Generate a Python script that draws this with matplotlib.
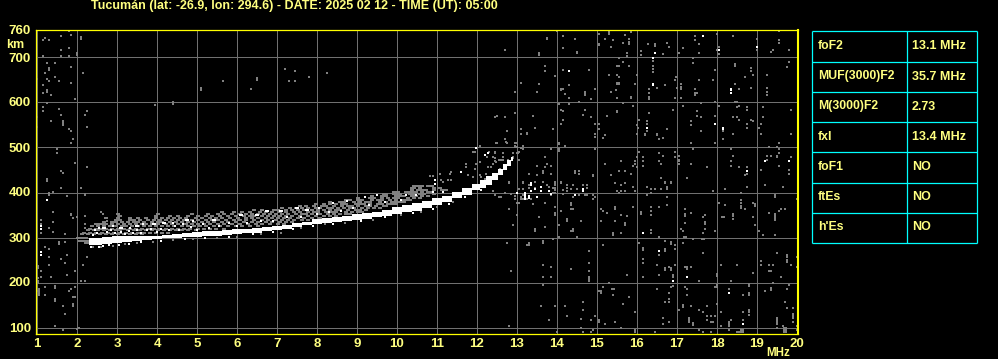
import matplotlib
matplotlib.use('Agg')
import matplotlib.pyplot as plt

# Header and table text
title = 'Tucumán (lat: -26.9, lon: 294.6) - DATE: 2025 02 12 - TIME (UT): 05:00'
table_names = ['foF2', 'MUF(3000)F2', 'M(3000)F2', 'fxI', 'foF1', 'ftEs', "h'Es"]
table_values = ['13.1 MHz', '35.7 MHz', '2.73', '13.4 MHz', 'NO', 'NO', 'NO']

x_ticks = list(range(1, 21))
y_ticks = [100, 200, 300, 400, 500, 600, 700]

# Main F trace, white band
trace_f = [2.3, 2.5, 2.75, 3, 3.25, 3.5, 3.75, 4, 4.25, 4.5, 4.75, 5, 5.25, 5.5, 5.75, 6, 6.25, 6.5, 6.75, 7,
           7.25, 7.5, 7.75, 8, 8.25, 8.5, 8.75, 9, 9.25, 9.5, 9.75, 10, 10.25, 10.5, 10.75, 11, 11.25, 11.5,
           11.75, 12, 12.15, 12.3, 12.45, 12.6, 12.7, 12.8, 12.9]
trace_low = [284, 284, 286, 288, 290, 292, 294, 296, 298, 300, 301, 302, 303, 304, 305, 307, 309, 311, 314, 316,
             319, 324, 327, 330, 333, 335, 337, 339, 342, 345, 348, 352, 356, 360, 366, 372, 378, 387,
             395, 405, 410, 416, 428, 438, 450, 460, 470]
trace_high = [298, 299, 301, 303, 303, 303, 303, 304, 306, 307, 309, 312, 314, 315, 316, 319, 320, 321, 323, 326,
              328, 333, 335, 342, 344, 346, 348, 352, 354, 357, 361, 367, 372, 376, 381, 387, 393, 401,
              410, 420, 428, 436, 444, 452, 464, 472, 478]

# Grey echoes above the trace, one row per height
cloud_rows = [
    (415, [10.4, 10.5, 10.6, 10.75, 10.85]),
    (410, [10.35, 10.4, 10.55, 10.9, 11.05]),
    (405, [10.35, 10.5, 10.6, 10.7, 10.9, 11.1, 11.2]),
    (401, [9.9, 10.0, 10.2, 10.3, 10.35, 10.45, 10.6, 10.75, 10.85]),
    (397, [9.65, 9.7, 9.9, 9.95, 10.05, 10.3, 10.4, 10.55, 10.65, 10.9]),
    (392, [9.35, 9.6, 9.7, 9.95, 10.05, 10.15, 10.35, 10.45, 10.6, 10.75]),
    (388, [9.0, 9.3, 9.4, 9.6, 9.75, 9.9, 10.0, 10.25, 10.4, 10.55]),
    (383, [8.7, 8.8, 9.0, 9.1, 9.35, 9.5, 9.6, 9.8, 9.95, 10.1, 10.2, 10.3]),
    (379, [8.3, 8.55, 8.65, 8.9, 9.05, 9.2, 9.3, 9.55, 9.7, 9.85, 9.95, 10.05, 10.15]),
    (374, [7.95, 8.15, 8.3, 8.45, 8.6, 8.7, 8.95, 9.05, 9.15, 9.3, 9.5, 9.6, 9.75, 9.85, 9.95]),
    (370, [7.55, 7.7, 7.9, 8.1, 8.2, 8.4, 8.6, 8.75, 8.85, 9.0, 9.2, 9.3, 9.45, 9.65, 9.7]),
    (365, [7.1, 7.3, 7.45, 7.6, 7.75, 7.95, 8.05, 8.25, 8.35, 8.5, 8.65, 8.8, 8.9, 9.1, 9.25, 9.4, 9.55]),
    (361, [6.4, 6.6, 6.9, 7.0, 7.2, 7.35, 7.5, 7.65, 7.85, 8.0, 8.15, 8.3, 8.45, 8.55, 8.75, 8.95, 9.05, 9.2]),
    (356, [5.6, 5.9, 6.1, 6.3, 6.55, 6.7, 6.85, 7.05, 7.2, 7.4, 7.55, 7.75, 7.9, 8.0, 8.2, 8.35, 8.45, 8.7, 8.85,
           9.0, 9.1]),
    (352, [3.0, 4.0, 4.85, 5.25, 5.5, 5.65, 5.85, 6.05, 6.2, 6.35, 6.5, 6.65, 6.8, 6.95, 7.1, 7.25, 7.45, 7.6, 7.7,
           7.85, 8.05, 8.25, 8.4, 8.55, 8.7, 8.8]),
    (347, [3.05, 3.95, 4.3, 4.5, 4.75, 5.0, 5.2, 5.35, 5.55, 5.75, 5.95, 6.15, 6.3, 6.4, 6.6, 6.75, 6.9, 7.05, 7.2,
           7.35, 7.55, 7.75, 7.95, 8.15, 8.3, 8.45]),
    (343, [2.7, 3.0, 3.3, 3.5, 3.7, 3.95, 4.1, 4.25, 4.4, 4.55, 4.7, 4.95, 5.1, 5.3, 5.45, 5.6, 5.8, 6.0, 6.2, 6.35,
           6.5, 6.7, 6.85, 7.0, 7.15, 7.3, 7.5, 7.65, 7.85, 8.05]),
    (338, [2.95, 3.05, 3.3, 3.4, 3.55, 3.75, 3.9, 4.05, 4.2, 4.35, 4.5, 4.65, 4.85, 5.0, 5.2, 5.35, 5.5, 5.7, 5.9,
           6.05, 6.2, 6.4, 6.6, 6.75, 6.95, 7.1, 7.25, 7.4, 7.6, 7.75]),
    (334, [2.65, 2.85, 2.95, 3.1, 3.25, 3.4, 3.5, 3.65, 3.85, 4.0, 4.1, 4.3, 4.45, 4.6, 4.75, 4.9, 5.1, 5.25, 5.4,
           5.6, 5.75, 5.95, 6.15, 6.35, 6.5, 6.7, 6.85, 7.05, 7.2, 7.35]),
    (329, [2.45, 2.6, 2.7, 2.85, 3.0, 3.15, 3.3, 3.45, 3.6, 3.7, 3.85, 4.0, 4.2, 4.35, 4.5, 4.7, 4.85, 5.0, 5.15, 5.3,
           5.5, 5.65, 5.85, 6.05, 6.25, 6.45, 6.6, 6.8, 7.0, 7.15]),
    (325, [2.35, 2.5, 2.65, 2.8, 2.95, 3.1, 3.2, 3.35, 3.5, 3.65, 3.8, 3.95, 4.1, 4.25, 4.4, 4.6, 4.75, 4.9, 5.05, 5.2,
           5.4, 5.55, 5.75, 5.95, 6.1, 6.3, 6.5]),
    (320, [2.3, 2.45, 2.55, 2.7, 2.85, 3.0, 3.15, 3.3, 3.45, 3.6, 3.75, 3.9, 4.05, 4.2, 4.35, 4.5, 4.65, 4.8, 5.0, 5.15,
           5.3, 5.45, 5.65]),
    (316, [2.25, 2.4, 2.5, 2.65, 2.8, 2.95, 3.05, 3.25, 3.4, 3.55, 3.7, 3.85, 4.0, 4.15, 4.3, 4.45, 4.6, 4.75, 4.95]),
    (311, [2.15, 2.3, 2.45, 2.6, 2.75, 2.9, 3.05, 3.2, 3.35, 3.5, 3.65, 3.8, 3.95, 4.1, 4.25]),
    (307, [2.1, 2.25, 2.4, 2.55, 2.7, 2.85, 3.0, 3.15, 3.3, 3.45, 3.6]),
    (300, [2.0, 2.1, 2.15, 2.2]),
    (293, [2.05, 2.15, 2.25]),
    (288, [2.2, 2.3]),
]

# Grey speckle, (MHz, km), read region by region
speck_left = [
    (1.2, 761), (1.54, 761), (1.79, 759), (1.84, 750), (1.59, 747), (1.14, 738), (1.19, 743), (1.29, 738), (2.09, 741),
    (2.09, 746), (1.59, 716), (1.79, 721), (1.14, 703), (1.59, 703), (1.79, 703), (1.99, 711), (1.99, 706), (1.24, 687),
    (1.44, 687), (1.84, 679), (1.29, 672), (1.29, 676), (1.19, 665), (2.14, 665), (1.44, 656), (1.24, 652), (1.29, 647),
    (1.54, 647), (1.84, 643), (1.0, 652), (1.14, 639), (1.24, 623), (1.24, 627), (1.14, 621), (1.34, 616), (1.94, 607),
    (1.24, 599), (1.14, 590), (1.14, 581), (1.54, 585), (1.59, 572), (2.24, 581), (2.19, 572), (1.0, 567), (1.34, 559),
    (1.64, 559), (1.64, 554), (1.64, 550), (2.24, 545), (1.0, 545), (1.79, 541), (1.84, 536), (1.89, 519), (1.84, 510),
    (1.49, 496), (1.49, 487), (1.94, 465), (2.24, 456), (1.59, 447), (1.64, 443), (1.24, 430), (1.24, 425), (1.59, 410),
    (2.09, 410), (1.29, 399), (1.29, 394), (1.39, 401), (1.74, 392), (2.19, 396), (1.39, 356), (1.84, 352), (1.89, 343),
    (2.19, 347), (1.39, 334), (1.29, 321), (1.39, 312), (1.69, 307), (1.09, 338), (1.09, 330), (1.09, 311), (2.19, 329),
    (2.19, 321), (2.59, 356), (2.64, 352), (2.74, 336), (2.64, 329), (2.54, 329), (1.19, 279), (1.29, 274), (1.54, 285),
    (1.54, 290), (1.69, 290), (1.74, 261), (2.24, 256), (1.59, 252), (1.29, 256), (1.69, 243), (2.14, 239), (1.29, 239),
    (1.02, 237), (1.02, 232), (1.09, 225), (1.94, 225), (1.74, 216), (1.34, 212), (1.09, 212), (1.02, 209), (1.02, 204),
    (1.02, 200), (2.09, 203), (2.19, 203), (1.19, 190), (1.44, 192), (1.44, 187), (1.94, 190), (1.84, 185), (1.79, 181),
    (1.04, 185), (1.04, 181), (1.04, 176), (1.04, 172), (1.0, 181), (1.19, 172), (1.89, 167), (1.94, 167), (1.44, 163),
    (1.44, 160), (1.89, 152), (1.89, 147), (1.64, 147), (1.69, 130), (1.44, 103), (1.64, 94), (2.04, 99), (1.99, 96),
    (2.2, 394), (1.85, 350), (2.0, 345),
]
speck_mid = [
    (3.94, 594), (4.39, 601), (4.39, 597), (5.09, 632), (5.09, 627), (5.64, 647), (6.49, 654), (6.49, 650), (6.34, 630),
    (7.19, 674), (7.44, 670), (7.29, 647), (7.44, 647), (7.79, 656), (8.24, 665),
    (10.82, 437), (10.9, 437), (11.07, 442), (11.11, 427), (11.32, 442), (11.36, 427), (11.28, 427), (11.15, 424),
    (11.36, 446), (11.73, 464), (11.73, 457), (11.94, 490), (11.9, 490), (12.07, 503), (12.27, 487), (12.44, 487),
    (12.48, 509), (12.73, 513), (12.98, 509), (12.94, 501), (13.11, 498), (13.03, 487), (12.9, 487), (12.65, 479),
    (12.44, 476), (12.48, 468), (12.07, 468), (11.98, 464), (11.94, 453), (12.27, 457), (12.4, 464), (12.61, 472),
    (12.78, 472), (12.9, 476), (11.78, 439), (12.07, 439), (12.23, 442), (12.36, 435), (12.11, 435), (12.19, 431),
    (12.57, 453), (11.9, 435),
    # below the band
    (2.4, 279), (2.6, 279), (2.9, 282), (3.2, 285), (3.5, 288), (3.9, 291), (4.4, 294), (4.9, 297), (5.5, 300),
    (6.0, 302), (6.6, 307), (7.1, 311), (7.6, 321), (8.2, 329), (8.7, 332), (9.4, 340), (10.1, 350), (10.6, 356),
    (11.0, 367), (11.4, 378),
]
speck_upper_right = [
    (13.74, 744), (13.74, 740), (12.69, 716), (13.54, 709), (13.54, 705), (13.99, 758), (14.14, 747), (14.44, 742),
    (14.14, 720), (14.49, 713), (14.49, 709), (15.04, 752), (15.29, 752), (15.29, 756), (15.19, 742), (15.39, 738),
    (15.04, 727), (15.04, 731), (15.34, 724), (15.69, 751), (15.84, 756), (15.79, 740), (15.79, 735), (15.79, 731),
    (15.64, 733), (15.74, 704), (15.74, 709), (15.54, 698), (15.64, 689), (15.79, 682), (15.49, 680), (15.54, 680),
    (13.69, 682), (13.69, 669), (13.94, 658), (14.14, 673), (14.79, 673), (15.29, 660), (15.49, 662), (15.54, 656),
    (15.99, 662), (13.09, 644), (13.54, 642), (12.94, 624), (13.49, 624), (14.29, 638), (14.09, 631), (14.14, 631),
    (14.1, 627), (14.19, 618), (14.69, 624), (14.69, 620), (14.69, 616), (14.94, 629), (15.34, 624), (15.47, 627),
    (15.49, 640), (15.54, 640), (15.49, 644), (15.54, 644), (15.49, 611), (15.84, 613), (15.84, 609), (15.94, 642),
    (14.29, 609), (14.84, 607), (14.54, 602), (14.29, 596), (14.04, 596), (14.09, 584), (15.64, 598), (15.89, 593),
    (15.49, 582), (15.49, 578), (14.69, 584), (14.64, 573), (14.14, 580), (14.14, 562), (14.09, 553), (14.84, 567),
    (15.24, 571), (14.94, 553), (15.04, 553), (15.04, 542), (12.44, 568), (12.49, 571), (12.69, 567), (12.94, 576),
    (13.39, 571), (13.44, 544), (13.89, 540), (13.09, 540), (13.09, 531), (13.24, 529), (13.24, 533), (12.74, 536),
    (14.94, 524), (14.94, 529), (15.19, 527), (15.14, 522), (15.99, 549), (16.04, 562), (16.02, 544), (15.99, 531),
    (14.04, 511), (14.04, 507), (14.19, 504), (13.84, 496), (14.04, 496), (14.04, 492), (14.94, 496), (16.04, 491),
    (13.69, 478), (13.84, 460), (13.74, 464), (13.49, 460), (13.69, 456), (13.29, 442), (13.49, 438), (13.64, 447),
    (13.64, 443), (13.84, 442), (14.44, 447), (14.44, 443), (14.54, 442), (14.54, 447), (14.89, 436), (14.89, 440),
    (15.19, 464), (15.59, 469), (15.54, 447), (15.69, 447), (15.89, 460), (15.94, 469), (15.94, 464), (15.84, 442),
    (15.34, 438), (15.99, 478), (15.99, 456), (14.09, 424), (12.79, 424), (13.14, 424), (13.64, 424), (13.94, 424),
    (12.07, 503), (12.49, 511), (12.69, 518), (12.74, 511), (12.94, 511), (12.94, 504), (12.99, 500), (13.14, 504),
    (13.14, 496), (13.04, 491), (12.99, 487), (12.89, 478), (13.04, 473), (12.29, 489), (12.44, 489), (12.64, 487),
    (12.24, 478), (12.39, 478), (12.44, 469), (12.54, 473), (12.64, 473), (12.34, 456), (12.39, 464), (12.69, 456),
]
speck_far_right = [
    (16.09, 715), (16.09, 705), (16.27, 730), (16.44, 726), (16.44, 730), (16.75, 733), (16.79, 724), (16.64, 707),
    (17.04, 709), (17.14, 720), (17.44, 747), (17.44, 738), (17.54, 729), (17.54, 711), (18.0, 752), (18.04, 724),
    (17.99, 716), (18.04, 707), (18.39, 747), (18.99, 742), (18.99, 716), (19.54, 758), (19.54, 738), (19.54, 733),
    (19.34, 713), (19.39, 716), (19.79, 716), (17.39, 698), (17.39, 687), (16.39, 693), (16.39, 682), (16.39, 675),
    (16.39, 667), (19.79, 691), (19.74, 678), (18.44, 685), (18.44, 680), (18.84, 676), (18.84, 671), (17.94, 673),
    (18.89, 660), (18.69, 656), (19.24, 660), (17.54, 651), (17.89, 651), (16.97, 656), (16.94, 651), (17.09, 641),
    (17.09, 634), (17.09, 629), (16.69, 638), (16.49, 633), (16.29, 629), (16.29, 620), (16.29, 612), (16.29, 607),
    (17.0, 633), (16.94, 611), (17.09, 611), (17.44, 629), (17.44, 622), (17.49, 622), (17.44, 616), (18.54, 629),
    (18.44, 642), (18.84, 633), (19.24, 633), (19.24, 624), (19.24, 616), (17.94, 602), (18.44, 602), (18.5, 602),
    (18.04, 593), (18.54, 593), (18.49, 589), (18.74, 589), (18.74, 584), (19.14, 589), (19.84, 584), (17.14, 593),
    (17.59, 598), (16.89, 584), (16.29, 576), (17.49, 580), (17.49, 571), (17.59, 567), (17.94, 571), (17.34, 558),
    (17.34, 549), (18.39, 567), (18.49, 567), (18.54, 562), (18.84, 562), (18.89, 558), (18.74, 553), (18.74, 544),
    (19.14, 567), (19.09, 553), (19.04, 544), (18.14, 536), (18.14, 518), (18.39, 531), (19.09, 531), (16.24, 558),
    (16.24, 553), (16.24, 536), (16.19, 531), (16.19, 527), (16.49, 531), (16.49, 527), (16.74, 540), (16.64, 522),
    (16.54, 518), (17.59, 536), (17.34, 509), (17.94, 509), (19.84, 531), (19.54, 511), (18.34, 496), (18.39, 482),
    (18.34, 469), (18.34, 460), (18.54, 456), (18.74, 456), (18.74, 442), (18.69, 438), (17.39, 496), (16.94, 491),
    (16.54, 487), (16.64, 482), (16.94, 478), (17.04, 482), (17.04, 473), (17.04, 469), (17.04, 464), (16.54, 469),
    (16.59, 464), (16.14, 478), (16.14, 469), (16.14, 460), (17.34, 464), (17.74, 456), (17.24, 433), (16.59, 433),
    (16.69, 424), (16.84, 424), (19.29, 500), (19.49, 500), (19.54, 496), (19.54, 487), (19.49, 482), (19.49, 478),
    (19.24, 482), (19.34, 482), (19.24, 473), (19.54, 460), (19.09, 451), (19.84, 478), (19.79, 451), (19.79, 442),
]
speck_lower_mid = [
    (12.79, 421), (13.14, 421), (13.44, 423), (13.94, 421), (14.09, 421), (15.44, 421), (15.69, 421), (15.59, 416),
    (15.89, 412), (14.39, 416), (14.74, 416), (13.29, 416), (13.29, 410), (13.04, 407), (13.14, 407), (13.44, 410),
    (13.74, 416), (13.79, 412), (13.94, 416), (13.94, 410), (13.94, 405), (13.94, 400), (13.89, 410), (14.14, 405),
    (14.24, 416), (14.24, 410), (14.24, 403), (14.34, 407), (14.49, 407), (14.64, 416), (14.74, 410), (12.39, 403),
    (12.44, 394), (12.54, 390), (12.59, 390), (12.69, 398), (12.84, 396), (12.94, 392), (12.94, 385), (13.09, 390),
    (13.09, 385), (13.14, 394), (13.14, 385), (13.24, 385), (13.34, 385), (13.39, 374), (12.99, 376), (13.04, 376),
    (13.69, 376), (13.84, 394), (13.89, 398), (14.14, 396), (14.39, 390), (14.54, 394), (14.69, 394), (14.74, 394),
    (14.89, 394), (14.94, 390), (14.89, 385), (15.49, 403), (15.59, 403), (15.54, 398), (15.69, 403), (15.94, 403),
    (14.34, 376), (14.34, 372), (14.34, 363), (14.39, 363), (13.94, 367), (13.94, 354), (13.94, 350), (14.09, 358),
    (12.79, 363), (12.99, 350), (13.54, 345), (12.89, 327), (14.24, 341), (14.24, 336), (14.59, 336), (14.04, 327),
    (13.69, 323), (13.44, 319), (13.44, 314), (14.39, 319), (14.39, 314), (14.34, 314), (14.49, 301), (14.04, 301),
    (15.09, 363), (15.14, 358), (15.24, 354), (15.44, 367), (15.44, 363), (15.59, 350), (15.74, 347), (15.89, 367),
    (15.09, 336), (15.44, 336), (15.69, 332), (15.69, 327), (15.59, 310), (15.39, 310), (15.39, 305), (12.74, 287),
    (13.24, 283), (13.29, 287), (13.29, 283), (13.64, 292), (13.64, 287), (13.89, 296), (15.14, 283), (16.04, 287),
    (14.79, 270), (14.79, 243), (14.79, 225), (14.79, 212), (14.79, 207), (14.79, 203), (13.64, 239), (13.84, 234),
    (14.34, 230), (12.84, 225), (13.64, 212), (13.84, 212), (15.74, 216), (13.64, 194), (15.04, 181), (15.09, 181),
    (15.09, 176), (15.14, 190), (15.29, 199), (15.37, 185), (15.42, 185), (15.39, 172), (15.79, 167), (15.64, 152),
    (15.94, 134), (13.59, 147), (13.94, 147), (14.19, 147), (14.64, 156), (14.64, 138), (14.24, 125), (14.59, 120),
    (14.94, 125), (14.84, 116), (13.79, 116), (15.04, 116), (15.04, 112), (15.19, 107), (15.44, 112), (12.79, 103),
    (14.59, 98), (14.89, 94), (15.59, 98), (15.94, 95), (15.94, 91), (13.99, 90), (14.64, 90), (14.84, 90),
]
speck_lower_right = [
    (16.24, 412), (16.34, 407), (16.44, 407), (16.59, 407), (16.69, 421), (16.84, 421), (16.74, 412), (16.74, 408),
    (16.24, 394), (16.34, 398), (16.74, 390), (16.74, 372), (16.34, 367), (16.54, 367), (16.34, 358), (16.34, 350),
    (16.09, 356), (16.09, 352), (17.19, 363), (17.19, 352), (17.19, 348), (17.34, 354), (17.19, 332), (17.09, 319),
    (17.14, 314), (17.64, 345), (17.69, 350), (17.69, 334), (17.69, 330), (17.69, 319), (17.64, 310), (17.94, 314),
    (17.89, 403), (18.19, 407), (18.74, 412), (19.19, 416), (19.64, 412), (18.59, 398), (19.44, 394), (19.44, 390),
    (19.99, 385), (18.04, 376), (18.19, 372), (18.59, 383), (18.59, 376), (18.59, 370), (18.59, 365), (18.69, 363),
    (18.89, 376), (18.94, 374), (18.94, 370), (18.39, 352), (18.39, 347), (18.39, 341), (18.12, 345), (18.17, 345),
    (18.89, 345), (18.94, 327), (19.29, 354), (19.44, 352), (19.44, 348), (19.44, 343), (19.44, 339), (19.54, 358),
    (19.59, 363), (19.69, 363), (19.04, 314), (19.14, 305), (19.44, 305), (16.34, 316), (16.34, 311), (16.54, 301),
    (16.69, 292), (16.84, 290), (16.84, 286), (16.94, 283), (16.94, 274), (16.69, 274), (16.69, 270), (16.54, 261),
    (16.14, 276), (16.14, 272), (16.14, 252), (16.14, 243), (16.49, 239), (16.69, 232), (16.69, 228), (16.79, 234),
    (16.84, 232), (16.84, 228), (16.94, 239), (16.54, 216), (16.89, 216), (16.89, 212), (16.14, 212), (17.17, 301),
    (17.22, 301), (17.14, 287), (17.39, 296), (17.62, 296), (17.67, 296), (17.64, 265), (17.24, 234), (17.19, 234),
    (17.34, 234), (17.24, 230), (17.54, 203), (18.09, 239), (18.49, 239), (17.99, 218), (17.99, 214), (18.89, 221),
    (19.09, 247), (19.09, 239), (19.29, 239), (19.39, 239), (19.29, 225), (19.34, 225), (19.49, 265), (19.59, 212),
    (19.74, 261), (19.74, 256), (19.74, 250), (19.74, 245), (19.84, 239), (19.99, 256), (19.99, 234), (19.39, 199),
    (18.34, 203), (17.99, 194), (17.99, 190), (17.94, 190), (18.29, 185), (18.79, 196), (18.79, 192), (18.79, 176),
    (18.79, 172), (18.64, 172), (19.34, 187), (19.34, 183), (19.19, 181), (19.74, 185), (19.79, 194), (16.49, 185),
    (16.89, 192), (16.84, 190), (16.79, 176), (16.79, 163), (16.79, 156), (16.69, 156), (17.19, 190), (17.24, 185),
    (17.24, 172), (17.14, 150), (17.14, 146), (17.34, 147), (17.04, 138), (17.54, 138), (17.64, 134), (17.74, 147),
    (17.99, 152), (17.74, 125), (17.84, 125), (17.94, 125), (17.74, 116), (17.84, 112), (17.89, 112), (17.29, 121),
    (17.29, 116), (17.29, 112), (17.39, 110), (17.39, 106), (16.64, 121), (16.64, 107), (16.79, 112), (16.44, 90),
    (18.09, 134), (18.34, 116), (18.29, 112), (18.29, 107), (18.29, 103), (18.09, 103), (18.29, 94), (18.79, 138),
    (18.79, 134), (18.79, 127), (18.64, 116), (18.64, 134), (19.69, 156), (19.74, 143), (19.89, 143), (19.89, 130),
    (19.89, 125), (19.89, 121), (19.89, 112), (19.99, 103), (19.49, 121), (19.49, 116), (19.49, 112), (19.49, 107),
    (19.49, 98), (19.64, 103), (19.67, 98), (19.67, 94), (19.67, 90), (19.72, 98), (19.72, 94), (19.72, 90),
    (18.49, 90), (18.54, 90), (18.59, 90), (18.59, 94), (18.64, 90), (18.64, 94), (17.54, 94), (17.64, 90), (17.84, 90),
    (19.99, 94),
]

# White cells away from the main band
white_cells = [
    (16.44, 711), (16.39, 698), (17.64, 747), (18.04, 716), (18.99, 724), (16.39, 642), (16.39, 638), (18.34, 631),
    (18.34, 627), (18.34, 622), (14.29, 669), (16.24, 544), (17.94, 553), (18.14, 544), (18.14, 540), (18.74, 447),
    (19.19, 470), (19.79, 469), (1.24, 383), (1.09, 325), (1.09, 320), (1.09, 267), (1.09, 262), (16.14, 310),
    (16.54, 270), (16.89, 203), (17.24, 212), (18.29, 176), (18.64, 107), (12.99, 400), (13.19, 400), (13.19, 394),
    (13.19, 390), (13.19, 385), (13.29, 392), (13.29, 387), (13.34, 421), (13.34, 416), (13.34, 403), (13.44, 407),
    (13.59, 412), (13.59, 403), (13.49, 390), (13.79, 403), (13.84, 396), (14.44, 394), (14.64, 407), (14.64, 403),
    (10.94, 427), (10.94, 420), (11.98, 498), (12.19, 483), (11.61, 446), (11.15, 401), (10.9, 401), (10.23, 394),
    (10.48, 394), (12.19, 484), (12.27, 487),
]
# White cells in the echo just above and below the band
white_near_band = [
    (2.65, 321), (2.7, 321), (2.9, 325), (3.07, 321), (3.12, 321), (3.32, 321), (3.48, 325), (3.53, 325), (3.65, 329),
    (3.9, 329), (3.95, 329), (4.15, 333), (4.2, 333), (4.4, 333), (4.73, 340), (4.78, 340), (4.9, 336), (5.4, 340),
    (5.45, 340), (6.07, 351), (6.12, 351), (6.48, 351), (6.53, 351), (6.73, 359), (6.78, 359), (7.07, 359), (7.12, 359),
    (7.48, 366), (7.53, 366), (7.73, 362), (7.78, 362), (8.05, 366), (8.4, 376), (8.75, 382), (9.2, 390), (9.5, 394),
    (2.4, 305), (2.5, 310), (2.45, 316), (2.55, 321), (2.75, 312), (2.85, 316), (2.95, 309), (3.1, 312), (3.2, 307),
    (3.3, 314), (3.4, 309), (3.5, 316), (3.6, 310), (3.75, 316), (3.85, 320), (4.0, 312), (4.1, 320), (4.3, 316),
    (4.45, 325), (4.55, 316), (4.65, 329), (4.85, 323), (5.0, 316), (5.15, 329), (5.3, 321), (5.55, 325), (5.8, 332),
    (6.0, 325), (6.25, 332), (6.6, 336), (6.9, 336), (7.25, 345), (7.6, 345), (8.0, 352), (8.3, 356), (8.6, 360),
    (8.9, 365), (9.3, 372), (9.7, 378), (10.1, 383), (2.35, 280), (2.55, 280), (2.65, 281), (2.8, 283), (3.05, 284),
    (3.3, 286), (3.6, 289), (4.1, 293), (4.7, 297), (5.2, 299), (5.8, 302), (6.4, 307), (6.9, 312), (7.4, 318),
    (7.9, 326), (8.4, 331), (9.1, 336), (9.7, 345), (10.4, 354), (10.9, 364), (11.3, 374), (11.7, 390), (12.1, 405),
]

grey_speck = speck_left + speck_mid + speck_upper_right + speck_far_right + speck_lower_mid + speck_lower_right
white_all = white_cells + white_near_band
cloud_f = [f for h, fs in cloud_rows for f in fs]
cloud_h = [h for h, fs in cloud_rows for f in fs]

TXT = '#FFFF80'
FONT = 'Liberation Sans'
W, H = 998, 359

fig = plt.figure(figsize=(W / 100, H / 100), dpi=100, facecolor='black')

# axes box runs from pixel x=36..798, y=30..333
ax = fig.add_axes([36 / W, 1 - 333.5 / H, 762 / W, 304 / H], facecolor='black')
ax.set_xlim(0.975, 20.025)
ax.set_ylim(86.7, 762.2)

for f in x_ticks:
    ax.axvline(f, color='#707070', lw=0.72, zorder=1)
for h in y_ticks:
    ax.axhline(h, color='#707070', lw=0.72, zorder=1)

cell = dict(marker='s', s=3.0, linewidths=0, antialiased=False, clip_on=True)
# echo cells run two cells wide, so the cloud clumps as in the original
ax.scatter(cloud_f, cloud_h, color='#808080', zorder=2, **cell)
ax.scatter([f + 0.05 for f in cloud_f], cloud_h, color='#808080', zorder=2, **cell)
ax.scatter([p[0] for p in grey_speck], [p[1] for p in grey_speck], color='#808080', zorder=2, **cell)
ax.fill_between(trace_f, trace_low, trace_high, step='mid', color='white', lw=0, antialiased=False, zorder=3)
ax.scatter([p[0] for p in white_all], [p[1] for p in white_all], color='white', zorder=4, **cell)

for s in ax.spines.values():
    s.set_color('#FFFF00')
    s.set_linewidth(0.9)
    s.set_zorder(5)
ax.spines['right'].set_linewidth(1.5)
ax.set_xticks([])
ax.set_yticks([])


def px_text(x, y, s, **kw):
    fig.text(x / W, 1 - y / H, s, color=TXT, family=FONT, fontweight='bold', va='center', **kw)


px_text(91, 6, title, fontsize=9.0, ha='left')

for f in x_ticks:
    px = 37 + (f - 1) * 40
    px_text(px, 344, str(f), fontsize=9.5, ha='center')
for h in y_ticks:
    py = 327.5 - (h - 100) * 0.45
    px_text(31, py + 1, str(h), fontsize=9.5, ha='right')
px_text(31, 31, '760', fontsize=9.5, ha='right')
px_text(6, 45, 'km', fontsize=9, ha='left')
px_text(766, 353, 'MHz', fontsize=8.4, ha='left')

# Table on the right
tx = fig.add_axes([0, 0, 1, 1], facecolor='none')
tx.set_xlim(0, W)
tx.set_ylim(H, 0)
tx.axis('off')
row_y = [30.5, 61.5, 91.5, 121.5, 151.5, 182.5, 212.5, 242.5]
for y in row_y:
    tx.plot([812.5, 977.5], [y, y], color='#00FFFF', lw=0.9, solid_capstyle='butt')
for x in [812.5, 907.5, 977.5]:
    tx.plot([x, x], [30.5, 242.5], color='#00FFFF', lw=0.9, solid_capstyle='butt')
for i in range(len(table_names)):
    yc = (row_y[i] + row_y[i + 1]) / 2
    px_text(818, yc, table_names[i], fontsize=8.8, ha='left')
    px_text(912, yc, table_values[i], fontsize=9.0, ha='left')

fig.savefig('out.png', dpi=100, facecolor='black')
